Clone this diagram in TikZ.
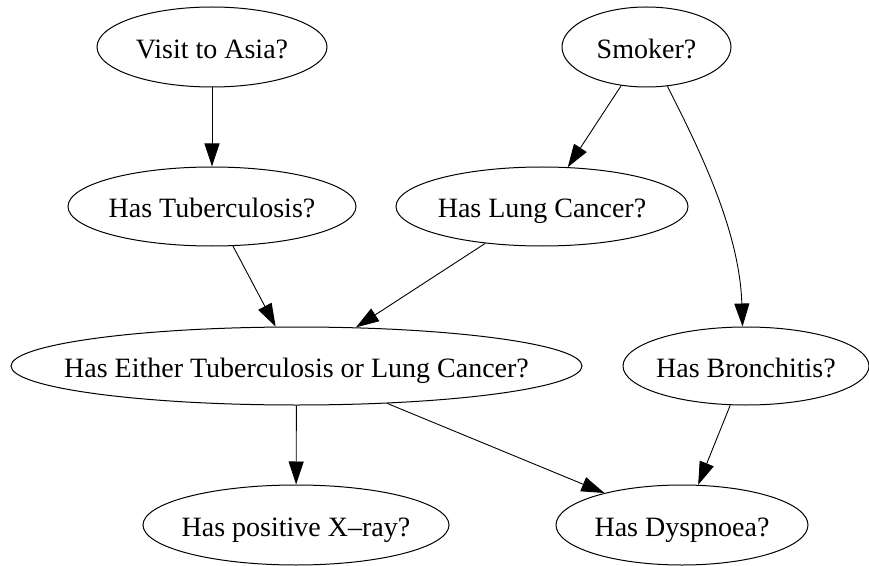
\documentclass[tikz,border=0pt]{standalone}
\usepackage{fontspec}
\setmainfont{Liberation Serif}
\usetikzlibrary{shapes.geometric,arrows.meta}
\tikzset{
  gvnode/.style n args={2}{draw, ellipse, line width=1bp, inner sep=0pt,
    minimum width=#1bp, minimum height=#2bp, text height=22.6bp, text depth=0pt,
    font=\fontsize{28bp}{30bp}\selectfont},
  gvedge/.style={line width=0.9bp, -{Triangle[length=23bp,width=15bp]}}
}
\newcommand{\gvtxt}[1]{\makebox[0pt]{#1}}
\begin{document}
\begin{tikzpicture}[x=1bp,y=-1bp]
\useasboundingbox (0,0) rectangle (869,566);
\node[gvnode={230}{80}] (asia) at (212,47) {\gvtxt{Visit to Asia?}};
\node[gvnode={169}{80}] (smk) at (646.5,47) {\gvtxt{Smoker?}};
\node[gvnode={288}{79}] (tub) at (212,206.5) {\gvtxt{Has Tuberculosis?}};
\node[gvnode={292}{79}] (lc) at (542,206.5) {\gvtxt{Has Lung Cancer?}};
\node[gvnode={571}{78}] (either) at (296.5,366) {\gvtxt{Has Either Tuberculosis or Lung Cancer?}};
\node[gvnode={246}{78}] (bron) at (746,366) {\gvtxt{Has Bronchitis?}};
\node[gvnode={306}{80}] (xray) at (296,525) {\gvtxt{Has positive X\textendash ray?}};
\node[gvnode={252}{80}] (dysp) at (682,525) {\gvtxt{Has Dyspnoea?}};
\draw[gvedge] (asia) -- (tub);
\draw[gvedge] (smk) -- (lc);
\draw[gvedge] (smk.-62) .. controls +(32,63) and +(-3,-96) .. (bron.95);
\draw[gvedge] (tub) -- (either);
\draw[gvedge] (lc) -- (either);
\draw[gvedge] (either) -- (xray);
\draw[gvedge] (either) -- (dysp);
\draw[gvedge] (bron) -- (dysp);
\end{tikzpicture}
\end{document}
